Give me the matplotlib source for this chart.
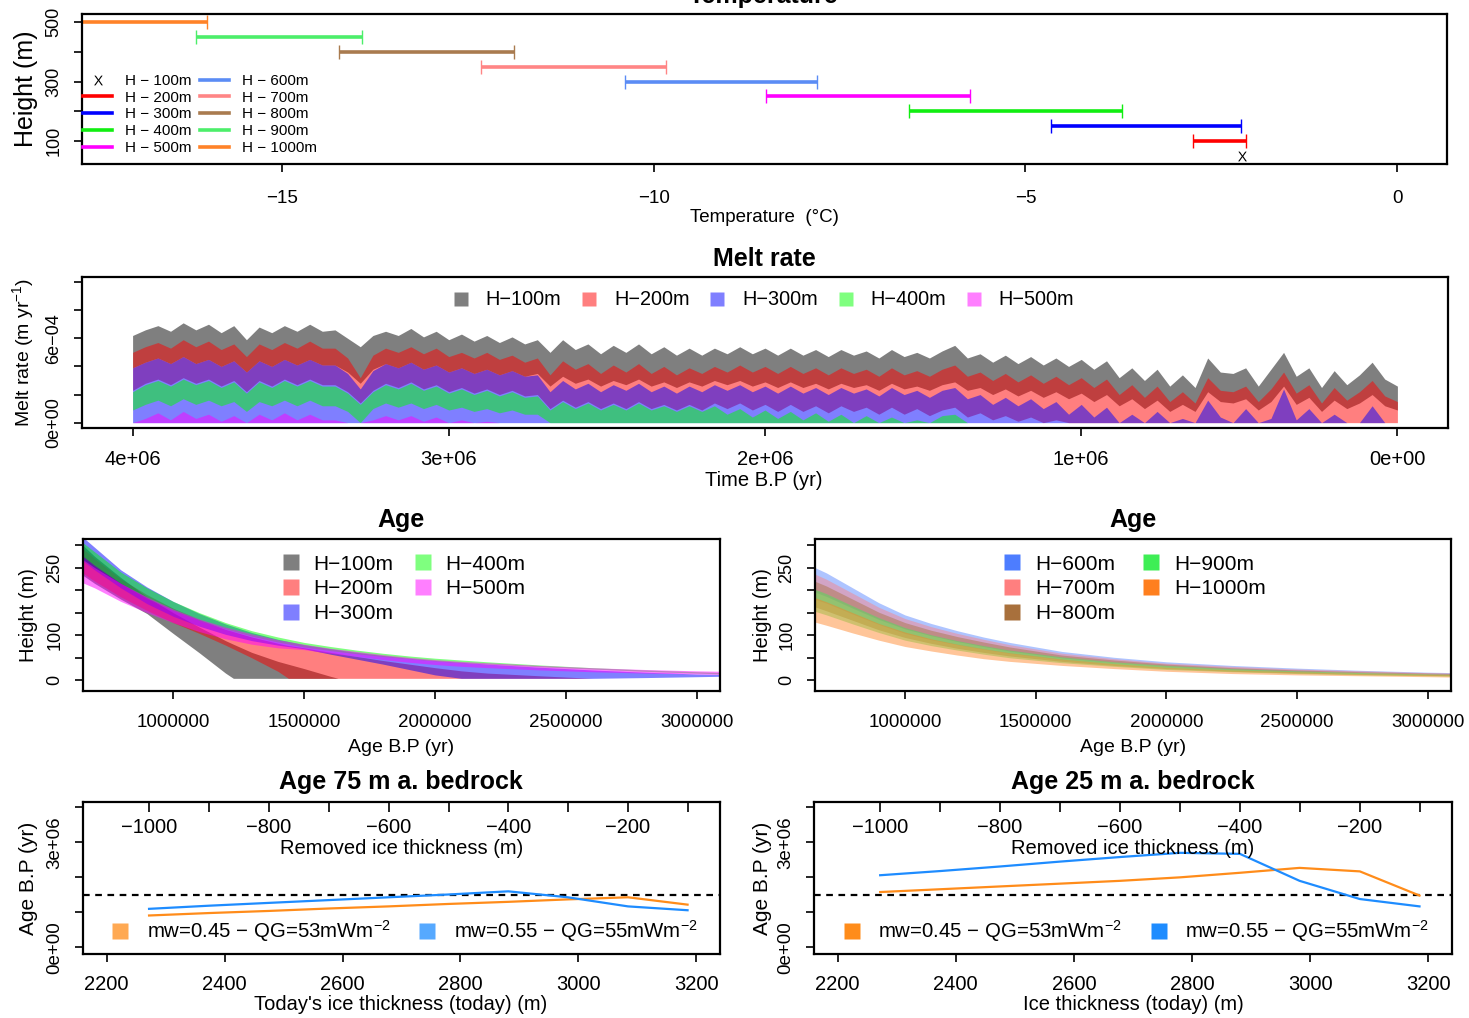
import numpy as np
import matplotlib
matplotlib.use("Agg")
import matplotlib.pyplot as plt
from matplotlib.lines import Line2D

plt.rcParams['font.family'] = ['Liberation Sans', 'DejaVu Sans']
plt.rcParams['mathtext.default'] = 'regular'

W, H = 1469, 1018

# ---------------- Temperature (top panel) ----------------
temp_labels = ['H − 100m', 'H − 200m', 'H − 300m', 'H − 400m', 'H − 500m',
               'H − 600m', 'H − 700m', 'H − 800m', 'H − 900m', 'H − 1000m']
temp_colors = ['black', '#FF0000', '#0000FF', '#11EE11', '#FF00FF',
               '#5B8CF5', '#FF8585', '#A97B4F', '#4CEE6A', '#FF8228']
temp_y = [50, 100, 150, 200, 250, 300, 350, 400, 450, 500]
temp_lo = [-2.09, -2.75, -4.65, -6.57, -8.49, -10.39, -12.32, -14.23, -16.16, -17.90]
temp_hi = [-2.09, -2.03, -2.10, -3.70, -5.75, -7.80, -9.84, -11.88, -13.93, -16.01]

# ---------------- Melt rate (1e-4 m/yr), time from 4 Myr to 0 ----------------
melt_t = np.linspace(4.0e6, 0.0, 101)
melt_h100_hi = [6.2, 6.6, 6.9, 6.5, 7.1, 6.6, 7.0, 6.4, 6.9, 5.9,
                6.8, 6.4, 6.9, 6.5, 7.0, 6.5, 6.6, 6.0, 5.4, 6.2,
                6.5, 6.2, 6.7, 6.1, 6.5, 5.9, 6.3, 5.8, 6.2, 5.7,
                6.1, 5.6, 5.9, 5.0, 5.9, 5.2, 5.6, 4.9, 5.5, 5.0,
                5.6, 4.9, 5.4, 4.8, 5.3, 4.8, 5.3, 4.9, 5.4, 4.9,
                5.3, 4.8, 5.3, 4.8, 5.2, 4.7, 5.2, 4.8, 5.1, 4.6,
                5.2, 4.7, 5.0, 4.6, 5.1, 5.5, 4.6, 4.9, 4.3, 4.8,
                4.2, 4.7, 4.1, 4.6, 4.0, 4.5, 3.8, 4.4, 3.2, 3.9,
                3.0, 3.8, 2.6, 3.4, 2.5, 4.6, 3.6, 3.5, 3.9, 2.6,
                3.8, 5.0, 3.3, 3.9, 2.5, 3.7, 2.7, 3.4, 4.3, 3.1,
                2.6]
melt_h100_lo = [3.9, 4.3, 4.6, 4.2, 4.7, 4.2, 4.5, 4.0, 4.4, 3.6,
                4.4, 4.0, 4.5, 4.1, 4.5, 4.1, 4.1, 3.6, 2.8, 3.8,
                4.2, 3.9, 4.3, 3.8, 4.1, 3.6, 3.9, 3.5, 3.8, 3.4,
                3.7, 3.3, 3.5, 2.6, 3.3, 2.8, 3.1, 2.6, 3.0, 2.7,
                3.1, 2.6, 2.9, 2.5, 2.9, 2.6, 3.0, 2.7, 3.0, 2.6,
                2.9, 2.5, 2.9, 2.5, 2.8, 2.4, 2.8, 2.5, 2.7, 2.3,
                2.8, 2.4, 2.6, 2.3, 2.7, 2.9, 2.3, 2.5, 2.0, 2.4,
                1.9, 2.3, 1.8, 2.2, 1.7, 2.1, 1.5, 2.0, 1.2, 1.7,
                1.0, 1.6, 0.8, 1.3, 0.8, 2.2, 1.5, 1.4, 1.7, 0.9,
                1.5, 2.6, 1.3, 1.8, 0.8, 1.6, 1.0, 1.4, 2.0, 1.2,
                0.9]
melt_h200_hi = [5.0, 5.4, 5.7, 5.3, 5.9, 5.4, 5.8, 5.2, 5.6, 4.7,
                5.6, 5.2, 5.7, 5.3, 5.8, 5.3, 5.3, 4.6, 3.2, 4.8,
                5.3, 5.0, 5.4, 4.9, 5.3, 4.7, 5.0, 4.6, 5.0, 4.5,
                4.8, 4.3, 4.6, 3.4, 4.4, 3.8, 4.2, 3.5, 4.1, 3.6,
                4.2, 3.5, 4.0, 3.4, 3.9, 3.5, 4.0, 3.6, 4.1, 3.6,
                4.0, 3.5, 4.0, 3.5, 3.9, 3.4, 3.9, 3.5, 3.8, 3.3,
                3.9, 3.4, 3.7, 3.3, 3.8, 4.1, 3.3, 3.6, 3.0, 3.5,
                2.9, 3.4, 2.8, 3.3, 2.7, 3.2, 2.5, 3.1, 2.0, 2.7,
                1.8, 2.6, 1.5, 2.2, 1.4, 3.2, 2.3, 2.2, 2.6, 1.5,
                2.4, 3.6, 2.1, 2.7, 1.4, 2.5, 1.6, 2.2, 3.0, 1.9,
                1.5]
melt_h200_lo = [2.3, 2.8, 3.1, 2.7, 3.2, 2.8, 3.1, 2.6, 3.0, 2.2,
                3.0, 2.6, 3.1, 2.7, 3.1, 2.7, 2.7, 2.2, 1.4, 2.3,
                2.8, 2.5, 2.9, 2.4, 2.7, 2.2, 2.5, 2.1, 2.4, 2.0,
                2.3, 1.9, 2.0, 1.0, 1.6, 1.1, 1.5, 1.0, 1.4, 1.0,
                1.5, 1.0, 1.3, 0.9, 1.3, 0.9, 1.4, 1.0, 1.4, 0.9,
                1.3, 0.8, 1.3, 0.8, 1.2, 0.7, 1.2, 0.8, 1.1, 0.6,
                1.1, 0.6, 1.0, 0.5, 0.9, 1.1, 0.4, 0.7, 0.2, 0.5,
                0.1, 0.4, 0.0, 0.2, 0.0, 0.0, 0.0, 0.0, 0.0, 0.0,
                0.0, 0.0, 0.0, 0.0, 0.0, 0.0, 0.0, 0.0, 0.0, 0.0,
                0.0, 0.0, 0.0, 0.0, 0.0, 0.0, 0.0, 0.0, 0.0, 0.0,
                0.0]
melt_h300_hi = [3.9, 4.3, 4.6, 4.2, 4.7, 4.2, 4.5, 4.0, 4.4, 3.6,
                4.4, 4.0, 4.5, 4.1, 4.5, 4.1, 4.1, 3.5, 2.4, 3.7,
                4.2, 3.9, 4.3, 3.8, 4.1, 3.6, 3.9, 3.5, 3.8, 3.4,
                3.7, 3.3, 3.4, 2.2, 3.0, 2.4, 2.8, 2.2, 2.7, 2.3,
                2.8, 2.2, 2.6, 2.1, 2.6, 2.2, 2.7, 2.3, 2.7, 2.2,
                2.6, 2.1, 2.6, 2.1, 2.5, 2.0, 2.5, 2.1, 2.4, 1.9,
                2.5, 2.0, 2.3, 1.8, 2.3, 2.5, 1.7, 2.0, 1.3, 1.8,
                1.2, 1.7, 1.0, 1.5, 0.6, 1.3, 0.4, 1.1, 0.0, 0.6,
                0.0, 0.8, 0.0, 0.3, 0.0, 1.6, 0.4, 0.0, 1.0, 0.0,
                0.3, 2.4, 0.2, 1.0, 0.0, 0.6, 0.0, 0.0, 1.2, 0.0,
                0.0]
melt_h300_lo = [0.0] * 101
melt_h400_hi = [2.2, 2.7, 3.0, 2.6, 3.1, 2.7, 3.0, 2.5, 2.9, 2.1,
                2.9, 2.5, 3.0, 2.6, 3.0, 2.6, 2.6, 2.1, 1.3, 2.2,
                2.7, 2.4, 2.8, 2.3, 2.6, 2.1, 2.4, 2.0, 2.3, 1.9,
                2.2, 1.8, 1.9, 0.9, 1.5, 1.0, 1.4, 0.9, 1.3, 0.9,
                1.4, 0.9, 1.2, 0.8, 1.2, 0.8, 1.2, 0.6, 1.0, 0.4,
                0.9, 0.3, 0.8, 0.2, 0.7, 0.1, 0.6, 0.0, 0.5, 0.0,
                0.4, 0.0, 0.2, 0.0, 0.5, 0.6, 0.0, 0.0, 0.0, 0.0] + [0.0] * 31
melt_h400_lo = [0.9, 1.3, 1.6, 1.2, 1.7, 1.3, 1.6, 1.2, 1.5, 0.8,
                1.5, 1.2, 1.6, 1.2, 1.6, 1.2, 1.2, 0.8, 0.0, 1.0,
                1.4, 1.1, 1.4, 1.0, 1.3, 0.9, 1.1, 0.8, 1.0, 0.7,
                0.9, 0.6, 0.6] + [0.0] * 68
melt_h500_hi = [0.0, 0.3, 0.7, 0.2, 0.8, 0.3, 0.6, 0.1, 0.5, 0.0,
                0.6, 0.2, 0.7, 0.2, 0.6, 0.2, 0.2, 0.0, 0.0, 0.2,
                0.5, 0.2, 0.5, 0.1, 0.4, 0.0, 0.2, 0.0, 0.1, 0.0] + [0.0] * 71
melt_h500_lo = [0.0] * 101
melt_labels = ['H−100m', 'H−200m', 'H−300m', 'H−400m', 'H−500m']
band_colors = ['black', '#FF0000', '#0000FF', '#00FF00', '#FF00FF']

# ---------------- Age, H-100m ... H-500m ----------------
age_h100_t = [0.60, 0.70, 0.80, 0.90, 1.00, 1.10, 1.20, 1.23, 1.30, 1.40, 1.50, 1.60, 1.63]
age_h100_hi = [330, 275, 228, 185, 150, 118, 88, 80, 62, 42, 26, 9, 4.4]
age_h100_lo = [255, 215, 180, 148, 104, 61, 16, 4.4, 4.4, 4.4, 4.4, 4.4, 4.4]
age_h200_t = [0.60, 0.70, 0.80, 0.90, 1.00, 1.10, 1.20, 1.30, 1.40, 1.44, 1.50, 1.60,
              1.70, 1.80, 1.90, 2.00, 2.10, 2.20, 2.40, 2.60]
age_h200_hi = [320, 270, 225, 190, 160, 135, 113, 96, 82, 77, 72, 62, 53, 44, 36, 28,
               21, 16, 10, 4.4]
age_h200_lo = [260, 220, 185, 155, 128, 104, 78, 50, 20, 4.4, 4.4, 4.4, 4.4, 4.4, 4.4,
               4.4, 4.4, 4.4, 4.4, 4.4]
age_t = [0.60, 0.70, 0.80, 0.90, 1.00, 1.10, 1.20, 1.30, 1.40, 1.50, 1.60, 1.70,
         1.80, 1.90, 2.00, 2.10, 2.20, 2.40, 2.60, 2.80, 3.00, 3.10]
age_h300_hi = [345, 295, 245, 207, 175, 148, 125, 106, 91, 79, 70, 62, 55, 49, 44, 40, 36, 29, 23, 18, 14, 13]
age_h300_lo = [290, 245, 205, 170, 142, 120, 102, 88, 78, 70, 58, 47, 36, 24, 12, 4.4, 4.4, 4.4, 4.4, 6, 8, 9]
age_h400_hi = [330, 285, 240, 205, 175, 150, 128, 110, 96, 84, 75, 67, 60, 54, 49, 45, 41, 34, 28, 23, 19, 17]
age_h400_lo = [300, 255, 215, 182, 155, 133, 114, 98, 85, 74, 66, 59, 53, 48, 43, 39, 36, 30, 25, 20, 16, 14]
age_h500_hi = [290, 250, 215, 185, 158, 136, 118, 103, 90, 80, 71, 64, 57, 51, 46, 42, 39, 33, 28, 24, 21, 20]
age_h500_lo = [230, 205, 175, 150, 128, 108, 92, 80, 72, 68, 60, 53, 46, 40, 35, 31, 28, 23, 19, 16, 14, 13]

# ---------------- Age, H-600m ... H-1000m ----------------
age2_t = [0.60, 0.70, 0.80, 0.90, 1.00, 1.10, 1.20, 1.30, 1.40, 1.60, 1.80, 2.00,
          2.25, 2.50, 2.75, 3.00, 3.10]
age_h600_hi = [265, 238, 205, 172, 145, 126, 110, 96, 84, 64, 51, 41, 33, 27, 22, 18, 17]
age_h600_lo = [208, 186, 160, 135, 114, 99, 86, 75, 65, 50, 40, 32, 25, 20, 17, 14, 13]
age_h700_hi = [250, 224, 193, 162, 137, 119, 104, 91, 79, 60, 48, 38, 31, 25, 21, 17, 16]
age_h700_lo = [191, 171, 147, 124, 104, 90, 79, 69, 60, 46, 37, 29, 23, 18, 15, 12, 11]
age_h800_hi = [233, 209, 180, 151, 128, 111, 97, 85, 74, 56, 45, 36, 28, 23, 19, 16, 15]
age_h800_lo = [174, 154, 133, 112, 95, 82, 71, 62, 54, 42, 33, 26, 20, 16, 13, 11, 10]
age_h900_hi = [214, 192, 165, 139, 117, 101, 88, 77, 67, 52, 41, 33, 26, 21, 17, 14, 13]
age_h900_lo = [163, 145, 125, 106, 89, 77, 67, 58, 50, 39, 31, 24, 19, 15, 12, 10, 9]
age_h1000_hi = [195, 174, 150, 126, 107, 92, 80, 70, 61, 47, 37, 29, 23, 19, 15, 13, 12]
age_h1000_lo = [138, 122, 105, 89, 75, 65, 56, 48, 42, 33, 26, 20, 15, 12, 10, 8, 7]
age2_labels = ['H−600m', 'H−700m', 'H−800m', 'H−900m', 'H−1000m']
age2_colors = ['#4D7DFF', '#FF7F7F', '#A8703C', '#3EEE55', '#FF7F1E']

# ---------------- Age above bedrock vs ice thickness ----------------
removed = [-1000, -900, -800, -700, -600, -500, -400, -300, -200, -100]
thick_today = [2272, 2374, 2475, 2577, 2678, 2780, 2881, 2982, 3084, 3185]
age75_mw045 = [0.91, 0.98, 1.04, 1.11, 1.17, 1.24, 1.30, 1.37, 1.43, 1.22]
age75_mw055 = [1.10, 1.19, 1.27, 1.35, 1.43, 1.51, 1.60, 1.43, 1.17, 1.06]
age25_mw045 = [1.58, 1.66, 1.74, 1.82, 1.90, 2.00, 2.13, 2.27, 2.17, 1.48]
age25_mw055 = [2.06, 2.18, 2.31, 2.45, 2.58, 2.70, 2.67, 1.90, 1.38, 1.17]
ref_age = 1.5e6
scen_labels = ['mw=0.45 − QG=53mWm$^{-2}$', 'mw=0.55 − QG=55mWm$^{-2}$']
scen_colors = ['#FF8C1A', '#1E8CFF']


def box(l, t, r, b):
    return [l / W, 1 - b / H, (r - l) / W, (b - t) / H]


def r_axes(ax, xsize=14, ysize=13, xpad=10.5):
    for s in ax.spines.values():
        s.set_linewidth(1.6)
    ax.tick_params(direction='out', length=5.5, width=1.2, pad=8.5,
                   top=False, right=False)
    ax.tick_params(axis='x', labelsize=xsize, pad=xpad)
    ax.tick_params(axis='y', labelsize=ysize)


def yticks_r(ax, ticks, labels):
    ax.set_yticks(ticks)
    ax.set_yticklabels(labels, rotation=90, va='center')


def ftext(x, y, s, **kw):
    return fig.text(x / W, 1 - y / H, s, ha='center', **kw)


fig = plt.figure(figsize=(W / 100, H / 100), dpi=100)

# ---- panel 1: temperature ----
ax1 = fig.add_axes(box(82, 14, 1447, 164))
for i in range(1, 10):
    mid = (temp_lo[i] + temp_hi[i]) / 2
    half = (temp_hi[i] - temp_lo[i]) / 2
    ax1.errorbar(mid, temp_y[i], xerr=half, fmt='none', ecolor=temp_colors[i],
                 elinewidth=2.6, capsize=5, capthick=1.0)
ax1.plot(temp_lo[0], temp_y[0], marker='$X$', color='black', markersize=7,
         markeredgewidth=0, linestyle='none')
ax1.set_xlim(-17.69, 0.67)
ax1.set_ylim(23, 527)
ax1.set_xticks([-15, -10, -5, 0])
ax1.set_xticklabels(['−15', '−10', '−5', '0'])
yticks_r(ax1, [100, 200, 300, 400, 500], ['100', '', '300', '', '500'])
r_axes(ax1, 13.5, 13, 13.5)
handles = [Line2D([], [], marker='$X$', color='black', linestyle='none',
                  markersize=7, markeredgewidth=0)]
handles += [Line2D([], [], color=c, lw=2.6) for c in temp_colors[1:]]
ax1.legend(handles, temp_labels, loc='center', bbox_to_anchor=(0.0864, 0.33),
           ncol=2, frameon=False, fontsize=11, handlelength=1.9,
           handletextpad=0.8, columnspacing=0.6, labelspacing=0.18, borderpad=0)
ftext(764, 3, 'Temperature', fontsize=18, fontweight='bold', va='baseline')
ftext(764, 217, 'Temperature  (°C)', fontsize=13.5, va='center')
ftext(26, 89, 'Height (m)', fontsize=18, rotation=90, va='center')

# ---- panel 2: melt rate ----
ax2 = fig.add_axes(box(82, 277, 1448, 428))
melt_bands = [(melt_h100_lo, melt_h100_hi), (melt_h200_lo, melt_h200_hi),
              (melt_h300_lo, melt_h300_hi), (melt_h400_lo, melt_h400_hi),
              (melt_h500_lo, melt_h500_hi)]
for (lo, hi), c in zip(melt_bands, band_colors):
    ax2.fill_between(melt_t, np.array(lo) * 1e-4, np.array(hi) * 1e-4,
                     color=c, alpha=0.5, lw=0)
ax2.set_xlim(4.16e6, -0.16e6)
ax2.set_ylim(-3.8e-5, 1.036e-3)
ax2.set_xticks([4e6, 3e6, 2e6, 1e6, 0])
ax2.set_xticklabels(['4e+06', '3e+06', '2e+06', '1e+06', '0e+00'])
yticks_r(ax2, [0, 2e-4, 4e-4, 6e-4, 8e-4, 1e-3], ['0e+00', '', '', '6e−04', '', ''])
r_axes(ax2, 14.5, 13, 10)
handles = [Line2D([], [], marker='s', linestyle='none', markersize=10,
                  markerfacecolor=c, markeredgecolor='none', alpha=0.5)
           for c in band_colors]
ax2.legend(handles, melt_labels, loc='center', bbox_to_anchor=(0.499, 0.848),
           ncol=5, frameon=False, fontsize=14.3, handlelength=0.8,
           handletextpad=0.85, columnspacing=1.0, borderpad=0)
ftext(764, 266, 'Melt rate', fontsize=18, fontweight='bold', va='baseline')
ftext(764, 480, 'Time B.P (yr)', fontsize=14.5, va='center')
ftext(23, 352, 'Melt rate (m yr$^{-1}$)', fontsize=14, rotation=90, va='center')

# ---- panel 3: age, H-100..500 ----
ax3 = fig.add_axes(box(83, 539, 720, 691))
age_bands = [(age_h100_t, age_h100_lo, age_h100_hi), (age_h200_t, age_h200_lo, age_h200_hi),
             (age_t, age_h300_lo, age_h300_hi), (age_t, age_h400_lo, age_h400_hi),
             (age_t, age_h500_lo, age_h500_hi)]
for (t, lo, hi), c in zip(age_bands, band_colors):
    ax3.fill_between(np.array(t) * 1e6, lo, hi, color=c, alpha=0.5, lw=0)
handles = [Line2D([], [], marker='s', linestyle='none', markersize=11,
                  markerfacecolor=c, markeredgecolor='none', alpha=0.5)
           for c in band_colors]
ax3.legend(handles, melt_labels, loc='center', bbox_to_anchor=(0.504, 0.672),
           ncol=2, frameon=False, fontsize=15, handlelength=0.8,
           handletextpad=0.7, columnspacing=1.0, labelspacing=0.27, borderpad=0)

# ---- panel 4: age, H-600..1000 ----
ax4 = fig.add_axes(box(815, 539, 1451, 691))
age2_bands = [(age_h600_lo, age_h600_hi), (age_h700_lo, age_h700_hi),
              (age_h800_lo, age_h800_hi), (age_h900_lo, age_h900_hi),
              (age_h1000_lo, age_h1000_hi)]
for (lo, hi), c in zip(age2_bands, age2_colors):
    ax4.fill_between(np.array(age2_t) * 1e6, lo, hi, color=c, alpha=0.45, lw=0)
handles = [Line2D([], [], marker='s', linestyle='none', markersize=11,
                  markerfacecolor=c, markeredgecolor='none')
           for c in age2_colors]
ax4.legend(handles, age2_labels, loc='center', bbox_to_anchor=(0.503, 0.672),
           ncol=2, frameon=False, fontsize=15, handlelength=0.8,
           handletextpad=0.7, columnspacing=1.35, labelspacing=0.27, borderpad=0)

for ax, cx in [(ax3, 401), (ax4, 1133)]:
    ax.set_xlim(6.56e5, 3.088e6)
    ax.set_ylim(-23.7, 313.3)
    ax.set_xticks([1e6, 1.5e6, 2e6, 2.5e6, 3e6])
    ax.set_xticklabels(['1000000', '1500000', '2000000', '2500000', '3000000'])
    yticks_r(ax, [0, 50, 100, 150, 200, 250, 300], ['0', '', '100', '', '', '250', ''])
    r_axes(ax, 13.5, 13, 11)
    ftext(cx, 527, 'Age', fontsize=18, fontweight='bold', va='baseline')
    ftext(cx, 747, 'Age B.P (yr)', fontsize=14, va='center')
ftext(28, 615, 'Height (m)', fontsize=14.5, rotation=90, va='center')
ftext(762, 615, 'Height (m)', fontsize=14.5, rotation=90, va='center')

# ---- panels 5/6: age above bedrock ----
bottom_specs = [
    (box(83, 802, 720, 954), age75_mw045, age75_mw055, 'Age 75 m a. bedrock',
     "Today's ice thickness (today) (m)", 401, 28, 0.75),
    (box(814, 802, 1452, 954), age25_mw045, age25_mw055, 'Age 25 m a. bedrock',
     'Ice thickness (today) (m)', 1133, 762, 1.0),
]
for rect, a045, a055, title, xlabel, cx, ylx, sw_alpha in bottom_specs:
    ax = fig.add_axes(rect)
    ax.axhline(ref_age, color='black', lw=1.6, ls=(0, (3, 2.5)))
    ax.plot(thick_today, np.array(a045) * 1e6, color=scen_colors[0], lw=1.6)
    ax.plot(thick_today, np.array(a055) * 1e6, color=scen_colors[1], lw=1.6)
    ax.set_xlim(2160, 3240)
    ax.set_ylim(-0.19e6, 4.152e6)
    ax.set_xticks([2200, 2400, 2600, 2800, 3000, 3200])
    yticks_r(ax, [0, 1e6, 2e6, 3e6, 4e6], ['0e+00', '', '', '3e+06', ''])
    r_axes(ax, 14.5, 13.5, 9.5)
    axt = ax.twiny()
    axt.set_xlim(ax.get_xlim())
    axt.set_xticks(thick_today)
    axt.set_xticklabels(['−' + str(-r) if r % 200 == 0 else '' for r in removed])
    axt.tick_params(axis='x', direction='in', length=7, width=1.2, labelsize=14.5, pad=-25)
    for s in axt.spines.values():
        s.set_visible(False)
    ax.text(0.5, 0.697, 'Removed ice thickness (m)', transform=ax.transAxes,
            ha='center', va='center', fontsize=14.5)
    handles = [Line2D([], [], marker='s', linestyle='none', markersize=11,
                      markerfacecolor=c, markeredgecolor='none', alpha=sw_alpha)
               for c in scen_colors]
    ax.legend(handles, scen_labels, loc='center', bbox_to_anchor=(0.505, 0.15),
              ncol=2, frameon=False, fontsize=14.7, handlelength=0.8,
              handletextpad=0.9, columnspacing=1.4, borderpad=0)
    ftext(cx, 789, title, fontsize=18, fontweight='bold', va='baseline')
    ftext(cx, 1005, xlabel, fontsize=14.5, va='center')
    ftext(ylx, 878, 'Age B.P (yr)', fontsize=15, rotation=90, va='center')

fig.savefig('out.png', dpi=100)
